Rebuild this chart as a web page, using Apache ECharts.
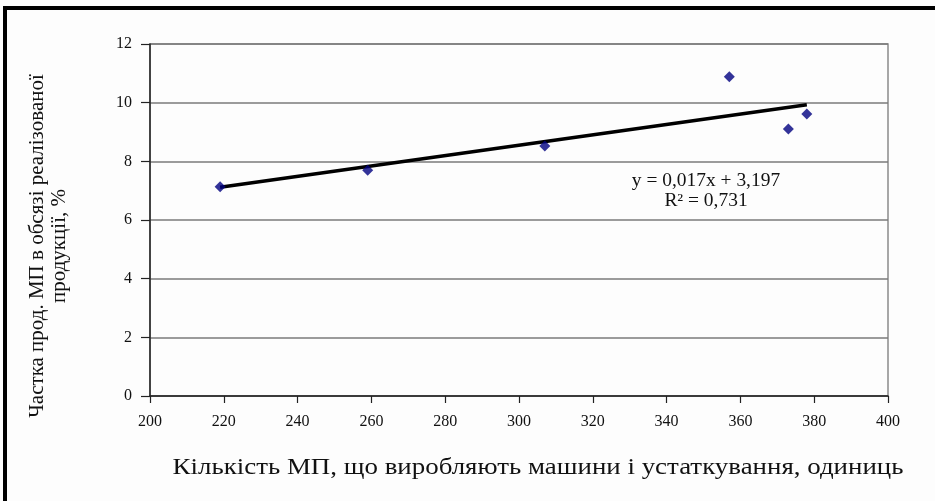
<!DOCTYPE html>
<html>
<head>
<meta charset="utf-8">
<script src="https://cdn.jsdelivr.net/npm/echarts@6/dist/echarts.min.js"></script>
<style>
  html, body { margin: 0; padding: 0; background: #fdfdfd; }
  #chart { width: 935px; height: 501px; }
</style>
</head>
<body>
<div id="chart"></div>
<script>
// Кількість МП (одиниць) та частка їх продукції у реалізованій продукції (%)
const machineCounts = [219, 259, 307, 357, 373, 378];
const productShare = [7.13, 7.7, 8.52, 10.88, 9.1, 9.61];

const xTicks = { min: 200, max: 400, step: 20 };
const yTicks = { min: 0, max: 12, step: 2 };

const trendEquation = 'y = 0,017x + 3,197';
const trendR2 = 'R² = 0,731';

const xTitle = 'Кількість МП, що виробляють машини і устаткування, одиниць';
const yTitleLines = ['Частка прод. МП в обсязі реалізованої', 'продукції, %'];

// Linear least-squares trend over the observed points
function linearFit(xs, ys) {
  const n = xs.length;
  const mx = xs.reduce((a, b) => a + b, 0) / n;
  const my = ys.reduce((a, b) => a + b, 0) / n;
  let sxy = 0, sxx = 0;
  for (let i = 0; i < n; i++) {
    sxy += (xs[i] - mx) * (ys[i] - my);
    sxx += (xs[i] - mx) * (xs[i] - mx);
  }
  const slope = sxy / sxx;
  return { slope, intercept: my - slope * mx };
}

const fit = linearFit(machineCounts, productShare);
const xLo = Math.min(...machineCounts);
const xHi = Math.max(...machineCounts);
const trendPoints = [
  [xLo, fit.intercept + fit.slope * xLo],
  [xHi, fit.intercept + fit.slope * xHi]
];

const points = machineCounts.map((x, i) => [x, productShare[i]]);

const serif = '"Liberation Serif", "DejaVu Serif", serif';
const chart = echarts.init(document.getElementById('chart'), null, { renderer: 'canvas' });

chart.setOption({
  backgroundColor: '#fdfdfd',
  animation: false,
  grid: {
    left: 150, right: 47, top: 44, bottom: 105,
    show: true, borderColor: '#8a8a8a', borderWidth: 1.5, backgroundColor: 'transparent'
  },
  xAxis: {
    type: 'value',
    min: xTicks.min, max: xTicks.max, interval: xTicks.step,
    axisLine: { show: true, onZero: false, lineStyle: { color: '#222', width: 1.5 } },
    axisTick: { show: true, length: 7, lineStyle: { color: '#222', width: 1.2 } },
    axisLabel: { margin: 18, color: '#111', fontFamily: serif, fontSize: 16 },
    splitLine: { show: false }
  },
  yAxis: {
    type: 'value',
    min: yTicks.min, max: yTicks.max, interval: yTicks.step,
    axisLine: { show: true, onZero: false, lineStyle: { color: '#222', width: 1.5 } },
    axisTick: { show: true, length: 9, lineStyle: { color: '#222', width: 1.2 } },
    axisLabel: { margin: 18, color: '#111', fontFamily: serif, fontSize: 16 },
    splitLine: { show: true, lineStyle: { color: '#7a7a7a', width: 1.5 } }
  },
  series: [
    {
      name: 'trend',
      type: 'line',
      data: trendPoints,
      showSymbol: false,
      symbol: 'none',
      lineStyle: { color: '#000', width: 3.5 },
      z: 2
    },
    {
      name: 'data',
      type: 'scatter',
      data: points,
      symbol: 'diamond',
      symbolSize: [11, 11],
      itemStyle: { color: '#000080' },
      z: 3
    }
  ],
  graphic: [
    // outer frame: thick top and left rules
    { type: 'rect', shape: { x: 3, y: 6, width: 935, height: 4 }, style: { fill: '#000' } },
    { type: 'rect', shape: { x: 3, y: 6, width: 4, height: 500 }, style: { fill: '#000' } },
    {
      type: 'text', x: 706, y: 181, scaleX: 1.08,
      style: { text: trendEquation, font: '18px ' + serif, fill: '#111', align: 'center', verticalAlign: 'middle' }
    },
    {
      type: 'text', x: 706, y: 201, scaleX: 1.08,
      style: { text: trendR2, font: '18px ' + serif, fill: '#111', align: 'center', verticalAlign: 'middle' }
    },
    {
      type: 'text', x: 538, y: 468, scaleX: 1.17,
      style: { text: xTitle, font: '23px ' + serif, fill: '#111', align: 'center', verticalAlign: 'middle' }
    },
    {
      type: 'text', x: 48, y: 246, rotation: Math.PI / 2,
      style: {
        text: yTitleLines.join('\n'), font: '21px ' + serif, lineHeight: 22,
        fill: '#111', align: 'center', verticalAlign: 'middle'
      }
    }
  ]
});
</script>
</body>
</html>
